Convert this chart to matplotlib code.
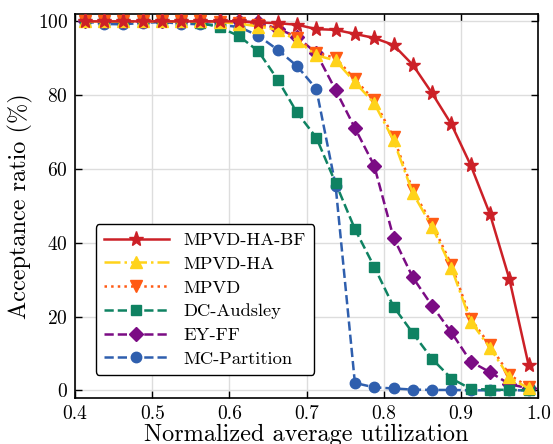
import matplotlib
matplotlib.use("Agg")
import matplotlib.pyplot as plt

# x positions of the evaluated utilization points
utilization = [
    0.4125, 0.4375, 0.4625, 0.4875, 0.5125, 0.5375, 0.5625, 0.5875,
    0.6125, 0.6375, 0.6625, 0.6875, 0.7125, 0.7375, 0.7625, 0.7875,
    0.8125, 0.8375, 0.8625, 0.8875, 0.9125, 0.9375, 0.9625, 0.9875,
]

mpvd_ha_bf = [
    100, 100, 100, 100, 100, 100, 100, 100,
    100, 99.7, 99.5, 99.1, 97.9, 97.7, 96.6, 95.5,
    93.6, 88.2, 80.5, 72.1, 61.0, 47.7, 30.2, 6.8,
]
mpvd_ha = [
    100, 100, 100, 100, 100, 100, 100, 99.8,
    99.4, 98.6, 97.7, 94.8, 90.8, 89.4, 83.5, 77.8,
    67.8, 53.4, 44.3, 33.2, 18.6, 11.5, 3.5, 0.5,
]
mpvd = [
    100, 100, 100, 100, 100, 100, 100, 99.9,
    99.6, 99.0, 98.2, 95.4, 91.5, 90.1, 84.3, 78.6,
    68.6, 54.2, 45.1, 34.0, 19.4, 12.2, 4.2, 0.9,
]
dc_audsley = [
    100, 100, 100, 100, 100, 100, 99.6, 98.4,
    96.0, 91.9, 84.2, 75.3, 68.5, 56.2, 43.7, 33.5,
    22.7, 15.5, 8.5, 3.2, 0.4, 0.2, 0.1, 0.0,
]
ey_ff = [
    100, 100, 100, 100, 100, 100, 100, 100,
    100, 99.7, 98.0, 95.8, 91.4, 81.4, 71.1, 60.9,
    41.4, 30.6, 22.9, 15.7, 7.8, 4.9, 1.7, 0.5,
]
mc_partition = [
    100, 99.3, 99.2, 99.6, 99.8, 99.4, 99.2, 99.0,
    98.5, 96.1, 92.3, 87.9, 81.7, 55.5, 2.0, 0.8,
    0.5, 0.2, 0.1, 0.1, 0.0, 0.0, 0.0, 0.0,
]

series = [
    ("MPVD-HA-BF", mpvd_ha_bf, "#cc2027", "-", "*", 11),
    ("MPVD-HA", mpvd_ha, "#ffd31a", "-.", "^", 9),
    ("MPVD", mpvd, "#ff5a14", ":", "v", 9),
    ("DC-Audsley", dc_audsley, "#0f8262", "--", "s", 7),
    ("EY-FF", ey_ff, "#7b0c84", "--", "D", 7),
    ("MC-Partition", mc_partition, "#2f5fae", "--", "o", 7.5),
]

plt.rcParams["font.family"] = ["cmr10", "DejaVu Serif"]
plt.rcParams["mathtext.fontset"] = "cm"
plt.rcParams["axes.formatter.use_mathtext"] = True

fig = plt.figure(figsize=(5.53, 4.44), dpi=100)
ax = fig.add_axes([0.1356, 0.1043, 0.8378, 0.8642])

for i, (label, values, color, ls, marker, ms) in enumerate(series):
    ax.plot(utilization, values, color=color, linestyle=ls, linewidth=1.8,
            marker=marker, markersize=ms, label=label, zorder=10 - i)

ax.set_xlim(0.4, 1.0)
ax.set_ylim(-2, 102)
ax.set_xticks([0.4, 0.5, 0.6, 0.7, 0.8, 0.9, 1.0])
ax.set_xticklabels(["0.4", "0.5", "0.6", "0.7", "0.8", "0.9", "1.0"])
ax.set_yticks([0, 20, 40, 60, 80, 100])
ax.tick_params(direction="in", top=True, right=True, length=5, width=1.0,
               labelsize=14, pad=5)
ax.grid(True, color="#dddddd", linewidth=1.0, zorder=0)
ax.set_axisbelow(True)
for sp in ax.spines.values():
    sp.set_linewidth(1.2)

ax.set_xlabel("Normalized average utilization", fontsize=17.5, labelpad=1)
ax.set_ylabel("Acceptance ratio (%)", fontsize=17.5, labelpad=3)

leg = ax.legend(loc="lower left", bbox_to_anchor=(0.025, 0.035), fontsize=13.3,
                handlelength=3.5, numpoints=1, labelspacing=0.42,
                framealpha=1.0, edgecolor="black", fancybox=True,
                borderpad=0.45, handletextpad=0.8)
leg.get_frame().set_linewidth(1.0)
leg.set_zorder(20)

fig.savefig("out.png", dpi=100)
